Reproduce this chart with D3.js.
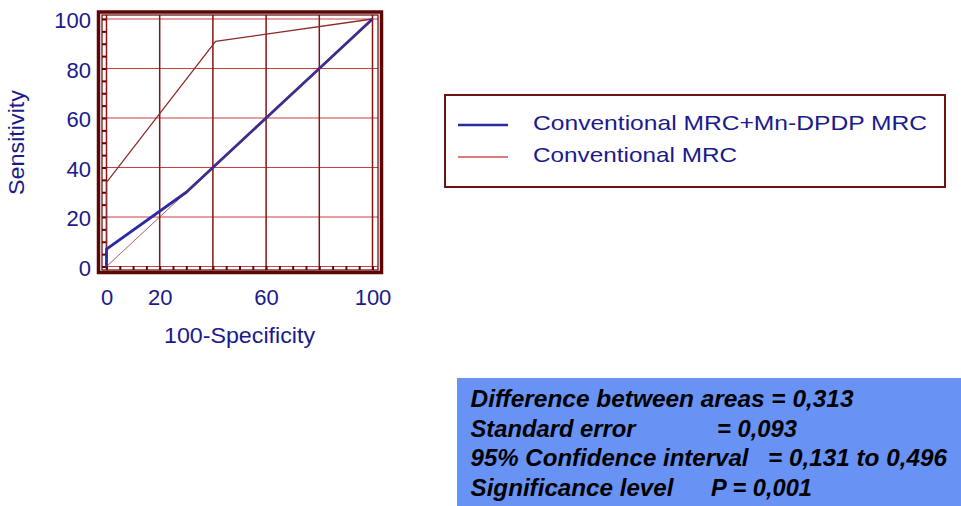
<!DOCTYPE html>
<html>
<head>
<meta charset="utf-8">
<script src="https://cdn.jsdelivr.net/npm/d3@7"></script>
<style>
  html, body { margin: 0; padding: 0; background: #ffffff; }
  svg { display: block; }
  text { font-family: "Liberation Sans", Arial, sans-serif; }
</style>
</head>
<body>
<svg id="chart" width="961" height="506"></svg>
<script>
// ---- data ----
const xTickLabels = [0, 20, 60, 100];
const yTickLabels = [0, 20, 40, 60, 80, 100];
const gridValues = [0, 20, 40, 60, 80, 100];
const minorTicks = [0,5,10,15,20,25,30,35,40,45,50,55,60,65,70,75,80,85,90,95,100];

const seriesNames = ["Conventional MRC+Mn-DPDP MRC", "Conventional MRC"];
// ROC curve: Conventional MRC+Mn-DPDP MRC  (x = 100-Specificity, y = Sensitivity)
const combinedX = [0, 0, 30, 40, 60, 80, 100];
const combinedY = [0, 7, 30, 40, 60, 80, 100];
// ROC curve: Conventional MRC
const conventionalX = [0, 0, 41, 100];
const conventionalY = [0, 34, 91, 100];
// reference diagonal
const diagX = [0, 100];
const diagY = [0, 100];

const statLabels = ["Difference between areas = 0,313", "Standard error", "95% Confidence interval", "Significance level"];
const statValues = ["", "= 0,093", "= 0,131 to 0,496", "P = 0,001"];

// ---- drawing ----
const svg = d3.select("#chart");
const navy = "#1a1a8c";
const frameColor = "#5e0606";

const x = d3.scaleLinear().domain([0, 100]).range([106.5, 372.5]);
const y = d3.scaleLinear().domain([0, 100]).range([266.5, 19]);

// grid: horizontal (lighter red)
svg.append("g").selectAll("line.h").data(gridValues).join("line")
  .attr("x1", 102).attr("x2", 378)
  .attr("y1", d => y(d)).attr("y2", d => y(d))
  .attr("stroke", "#c84040").attr("stroke-width", 1);
// grid: vertical (darker maroon)
svg.append("g").selectAll("line.v").data(gridValues).join("line")
  .attr("x1", d => x(d)).attr("x2", d => x(d))
  .attr("y1", 15).attr("y2", 270)
  .attr("stroke", "#8a1212").attr("stroke-width", 1.5);

// minor ticks (left, bottom) via axes
const leftMinor = svg.append("g").attr("transform", "translate(102,0)")
  .call(d3.axisRight(y).tickValues(minorTicks).tickSize(4).tickFormat(""));
leftMinor.select(".domain").remove();
leftMinor.selectAll("line").attr("stroke", frameColor).attr("stroke-width", 2);
const bottomMinor = svg.append("g").attr("transform", "translate(0,270)")
  .call(d3.axisTop(x).tickValues(minorTicks).tickSize(4).tickFormat(""));
bottomMinor.select(".domain").remove();
bottomMinor.selectAll("line").attr("stroke", frameColor).attr("stroke-width", 2);

// frame
svg.append("rect").attr("x", 102).attr("y", 15).attr("width", 276).attr("height", 255)
  .attr("fill", "none").attr("stroke", frameColor).attr("stroke-width", 1.2);
svg.append("rect").attr("x", 98.5).attr("y", 12).attr("width", 283).attr("height", 260.5)
  .attr("fill", "none").attr("stroke", frameColor).attr("stroke-width", 3.5);

const line = d3.line().x(d => x(d[0])).y(d => y(d[1]));

// conventional MRC
svg.append("path").datum(d3.zip(conventionalX, conventionalY))
  .attr("d", line).attr("fill", "none").attr("stroke", "#8e2a2a").attr("stroke-width", 1.3);
// combined
svg.append("path").datum(d3.zip(combinedX, combinedY))
  .attr("d", line).attr("fill", "none").attr("stroke", "#2a2aa6").attr("stroke-width", 2.8)
  .attr("stroke-linejoin", "round");
// diagonal
svg.append("path").datum(d3.zip(diagX, diagY))
  .attr("d", line).attr("fill", "none").attr("stroke", "#8e2a2a").attr("stroke-width", 1).attr("opacity", 0.75);

// tick labels
const yAx = svg.append("g").attr("transform", "translate(91,0)")
  .call(d3.axisLeft(y).tickValues(yTickLabels).tickSize(0).tickPadding(0));
yAx.select(".domain").remove();
yAx.selectAll("text").attr("fill", navy).attr("font-size", 22)
  .attr("font-family", "Liberation Sans, Arial, sans-serif").attr("dy", "0.4em");

const xAx = svg.append("g").attr("transform", "translate(0,289)")
  .call(d3.axisBottom(x).tickValues(xTickLabels).tickSize(0).tickPadding(0));
xAx.select(".domain").remove();
xAx.selectAll("text").attr("fill", navy).attr("font-size", 22)
  .attr("font-family", "Liberation Sans, Arial, sans-serif").attr("dy", "0.73em");

// axis titles
svg.append("text").attr("x", 239.5).attr("y", 342.5).attr("text-anchor", "middle")
  .attr("fill", navy).attr("font-size", 22)
  .attr("textLength", 151).attr("lengthAdjust", "spacingAndGlyphs")
  .text("100-Specificity");
svg.append("text").attr("transform", "translate(24,142.5) rotate(-90)").attr("text-anchor", "middle")
  .attr("fill", navy).attr("font-size", 22)
  .attr("textLength", 105).attr("lengthAdjust", "spacingAndGlyphs")
  .text("Sensitivity");

// legend
svg.append("rect").attr("x", 445).attr("y", 95).attr("width", 500).attr("height", 92)
  .attr("fill", "#ffffff").attr("stroke", "#6a1414").attr("stroke-width", 2);
const legColors = ["#2a2aa6", "#d05252"];
const legWidths = [2.6, 1.5];
const legBase = [130, 162];
const legLen = [394, 204];
seriesNames.forEach((name, i) => {
  svg.append("line").attr("x1", 458).attr("x2", 508)
    .attr("y1", legBase[i] - 5).attr("y2", legBase[i] - 5)
    .attr("stroke", legColors[i]).attr("stroke-width", legWidths[i]);
  svg.append("text").attr("x", 533).attr("y", legBase[i])
    .attr("fill", navy).attr("font-size", 21)
    .attr("textLength", legLen[i]).attr("lengthAdjust", "spacingAndGlyphs")
    .text(name);
});

// stats box
svg.append("rect").attr("x", 457).attr("y", 378).attr("width", 504).attr("height", 128)
  .attr("fill", "#6892f4");
const statBase = [407, 436.5, 466, 495.5];
const labLen = [383, 165, 278, 203];
const valX = [0, 717, 768, 711];
const valLen = [0, 80, 179, 101];
statLabels.forEach((t, i) => {
  svg.append("text").attr("x", 470.5).attr("y", statBase[i])
    .attr("fill", "#000000").attr("font-size", 23).attr("font-weight", "bold").attr("font-style", "italic")
    .attr("textLength", labLen[i]).attr("lengthAdjust", "spacingAndGlyphs")
    .text(t);
  if (statValues[i]) {
    svg.append("text").attr("x", valX[i]).attr("y", statBase[i])
      .attr("fill", "#000000").attr("font-size", 23).attr("font-weight", "bold").attr("font-style", "italic")
      .attr("textLength", valLen[i]).attr("lengthAdjust", "spacingAndGlyphs")
      .text(statValues[i]);
  }
});
</script>
</body>
</html>
